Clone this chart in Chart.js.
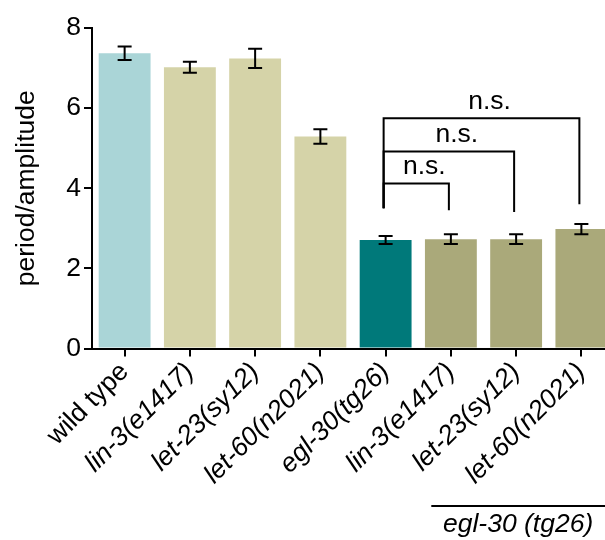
<!DOCTYPE html>
<html>
<head>
<meta charset="utf-8">
<script src="https://cdn.jsdelivr.net/npm/chart.js@4/dist/chart.umd.min.js"></script>
<style>
  html, body { margin: 0; padding: 0; overflow: hidden; background: #fff; }
  #wrap { width: 614px; height: 540px; }
</style>
</head>
<body>
<div id="wrap"><canvas id="c" width="614" height="540"></canvas></div>
<script>
// Strains on the x axis
const categories = ['wild type', 'lin-3(e1417)', 'let-23(sy12)', 'let-60(n2021)',
                    'egl-30(tg26)', 'lin-3(e1417)', 'let-23(sy12)', 'let-60(n2021)'];
// Mean period/amplitude and its SEM per strain
const means = [7.37, 7.02, 7.24, 5.29, 2.71, 2.73, 2.73, 2.98];
const sems  = [0.17, 0.14, 0.24, 0.18, 0.10, 0.12, 0.12, 0.13];
const barColors = ['#aad5d7', '#d5d3a8', '#d5d3a8', '#d5d3a8',
                   '#00797a', '#aaa97a', '#aaa97a', '#aaa97a'];
// Y axis ticks
const yTicks = [0, 2, 4, 6, 8];

// Significance brackets: egl-30(tg26) against each double mutant
const compareFrom = 4;
const compareTo = [5, 6, 7];
const bracketLevels = [4.12, 4.92, 5.75];
const bracketLeftEnd = 3.5;
const bracketRightEnds = [3.45, 3.41, 3.6];
const bracketLabels = ['n.s.', 'n.s.', 'n.s.'];

// Background group under the last three strains
const groupFirst = 5, groupLast = 7;
const groupLabel = 'egl-30 (tg26)';

const FONT = '"Liberation Sans", Arial, Helvetica, sans-serif';
const SIZE = 26.5;

const overlay = {
  id: 'overlay',
  afterDatasetsDraw(chart) {
    const { ctx, scales: { x, y } } = chart;
    ctx.save();
    ctx.strokeStyle = '#000';
    ctx.fillStyle = '#000';
    ctx.lineWidth = 2;
    ctx.lineCap = 'butt';

    // error bars
    means.forEach((m, i) => {
      const px = x.getPixelForValue(i);
      const t = y.getPixelForValue(m + sems[i]);
      const b = y.getPixelForValue(m - sems[i]);
      ctx.beginPath();
      ctx.moveTo(px, t); ctx.lineTo(px, b);
      ctx.moveTo(px - 7, t); ctx.lineTo(px + 7, t);
      ctx.moveTo(px - 7, b); ctx.lineTo(px + 7, b);
      ctx.stroke();
    });

    // brackets
    const xl = x.getPixelForValue(compareFrom) - 2;
    ctx.font = SIZE + 'px ' + FONT;
    ctx.textAlign = 'center';
    ctx.textBaseline = 'alphabetic';
    compareTo.forEach((j, k) => {
      const xr = x.getPixelForValue(j) - 2;
      const yl = y.getPixelForValue(bracketLevels[k]);
      ctx.beginPath();
      ctx.moveTo(xl, y.getPixelForValue(bracketLeftEnd));
      ctx.lineTo(xl, yl);
      ctx.lineTo(xr, yl);
      ctx.lineTo(xr, y.getPixelForValue(bracketRightEnds[k]));
      ctx.stroke();
      ctx.fillText(bracketLabels[k], (xl + xr) / 2 + 8, yl - 9);
    });

    // group line and label
    const step = x.getPixelForValue(1) - x.getPixelForValue(0);
    const g0 = x.getPixelForValue(groupFirst) - 0.3 * step;
    const g1 = x.getPixelForValue(groupLast) + 0.45 * step;
    ctx.beginPath();
    ctx.moveTo(g0, 506); ctx.lineTo(g1, 506);
    ctx.stroke();
    ctx.font = 'italic ' + SIZE + 'px ' + FONT;
    ctx.fillText(groupLabel, (x.getPixelForValue(groupFirst) + x.getPixelForValue(groupLast)) / 2 + 2, 532);
    ctx.restore();
  }
};

new Chart(document.getElementById('c'), {
  type: 'bar',
  data: {
    labels: categories,
    datasets: [{
      data: means,
      backgroundColor: barColors,
      borderWidth: 0,
      categoryPercentage: 1,
      barPercentage: 0.795
    }]
  },
  options: {
    responsive: false,
    animation: false,
    devicePixelRatio: 1,
    layout: { padding: { top: 28, left: 0, right: 0, bottom: 0 } },
    plugins: { legend: { display: false }, tooltip: { enabled: false } },
    scales: {
      x: {
        grid: { display: true, offset: false, drawOnChartArea: false, drawTicks: true,
                tickLength: 8, color: '#000', lineWidth: 2 },
        border: { display: true, color: '#000', width: 2 },
        ticks: {
          color: '#000',
          minRotation: 45, maxRotation: 45, padding: 0,
          autoSkip: false,
          font: (c) => ({ family: FONT, size: SIZE, style: c.index === 0 ? 'normal' : 'italic' })
        },
        afterFit: (s) => { s.height = 191.5; }
      },
      y: {
        min: 0, max: 8,
        afterBuildTicks: (s) => { s.ticks = yTicks.map(v => ({ value: v })); },
        grid: { display: true, drawOnChartArea: false, drawTicks: true,
                tickLength: 8, color: '#000', lineWidth: 2 },
        border: { display: true, color: '#000', width: 2 },
        ticks: { color: '#000', padding: 3, font: { family: FONT, size: SIZE } },
        title: { display: true, text: 'period/amplitude', color: '#000',
                 padding: { top: 11, bottom: 0 },
                 font: { family: FONT, size: SIZE } },
        afterFit: (s) => { s.width = 92; }
      }
    }
  },
  plugins: [overlay]
});
</script>
</body>
</html>
